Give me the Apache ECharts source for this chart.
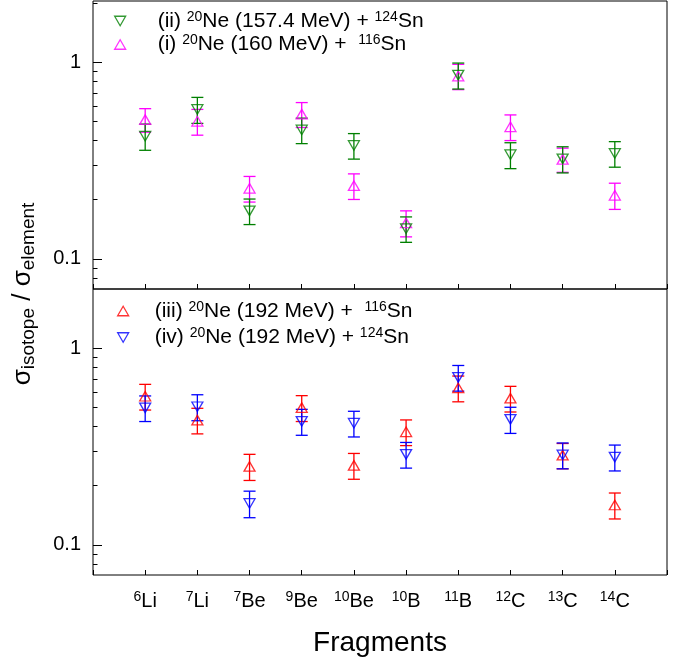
<!DOCTYPE html>
<html><head><meta charset="utf-8">
<script src="https://cdn.jsdelivr.net/npm/echarts@6/dist/echarts.min.js"></script>
<style>html,body{margin:0;padding:0;background:#fff}#c{width:685px;height:661px}</style>
</head><body><div id="c"></div>
<script>
// ---- categories (fragments) ----
const massNumbers = ['6','7','7','9','10','10','11','12','13','14'];
const elements    = ['Li','Li','Be','Be','Be','B','B','C','C','C'];

// ---- top panel ----
// (ii) 20Ne (157.4 MeV) + 124Sn
const ii_val = [0.42, 0.575, 0.175, 0.452, 0.377, 0.142, 0.86, 0.338, 0.322, 0.343];
const ii_err = [0.064, 0.087, 0.026, 0.067, 0.056, 0.021, 0.13, 0.051, 0.049, 0.051];
// (i) 20Ne (160 MeV) + 116Sn
const i_val  = [0.51, 0.50, 0.228, 0.544, 0.235, 0.152, 0.85, 0.469, 0.32, 0.21];
const i_err  = [0.07, 0.075, 0.034, 0.079, 0.035, 0.023, 0.125, 0.07, 0.045, 0.032];

// ---- bottom panel ----
// (iii) 20Ne (192 MeV) + 116Sn
const iii_val = [0.569, 0.43, 0.25, 0.498, 0.253, 0.375, 0.627, 0.556, 0.285, 0.159];
const iii_err = [0.085, 0.064, 0.038, 0.075, 0.038, 0.056, 0.094, 0.083, 0.042, 0.024];
// (iv) 20Ne (192 MeV) + 124Sn
const iv_val = [0.497, 0.503, 0.162, 0.424, 0.415, 0.288, 0.71, 0.434, 0.286, 0.279];
const iv_err = [0.074, 0.076, 0.025, 0.064, 0.062, 0.043, 0.106, 0.066, 0.043, 0.042];

// ---- axis ticks ----
const yMajorTicks = [0.1, 1];
const yMinorTicks = [0.08, 0.09, 0.2, 0.3, 0.4, 0.5, 0.6, 0.7, 0.8, 0.9, 2];

const FONT = 'Liberation Sans, Arial, sans-serif';
const GREEN = '#008000', MAGENTA = '#ff00ff', RED = '#ff0000', BLUE = '#0000ff';
const DOWN = 'path://M0,0L10,0L5,8.66Z';

const legendText = {
  'ii':  '{sp|}{t|(ii) }{sup|20}{t|Ne (157.4 MeV) + }{sup|124}{t|Sn}',
  'i':   '{sp|}{t|(i) }{sup|20}{t|Ne (160 MeV) +  }{sup|116}{t|Sn}',
  'iii': '{sp|}{t|(iii) }{sup|20}{t|Ne (192 MeV) +  }{sup|116}{t|Sn}',
  'iv':  '{sp|}{t|(iv) }{sup|20}{t|Ne (192 MeV) + }{sup|124}{t|Sn}'
};

function legendRich(sp) {
  return {
    sp: {width: sp, fontSize: 21, lineHeight: 22},
    t: {fontSize: 21, fontFamily: FONT, color: '#000', lineHeight: 22},
    sup: {fontSize: 14, fontFamily: FONT, color: '#000', lineHeight: 14, verticalAlign: 'top'}
  };
}

function scatter(name, vals, color, sym, gi, z) {
  return {
    name, type: 'scatter', xAxisIndex: gi, yAxisIndex: gi, z,
    symbol: sym, symbolSize: [11, 9.5],
    itemStyle: {color: 'rgba(255,255,255,0)', borderColor: color, borderWidth: 1.3},
    data: vals.map((v, i) => [i + 1, v])
  };
}

function errBars(vals, errs, color, gi, z) {
  return {
    type: 'custom', xAxisIndex: gi, yAxisIndex: gi, z, silent: true,
    data: vals.map((v, i) => [i + 1, v - errs[i], v + errs[i]]),
    encode: {x: 0, y: [1, 2]},
    renderItem(params, api) {
      const x = api.value(0);
      const lo = api.coord([x, api.value(1)]);
      const hi = api.coord([x, api.value(2)]);
      const hw = 6;
      const style = {stroke: color, lineWidth: 1.3, fill: null};
      return {type: 'group', children: [
        {type: 'line', shape: {x1: lo[0], y1: lo[1], x2: hi[0], y2: hi[1]}, style},
        {type: 'line', shape: {x1: lo[0] - hw, y1: lo[1], x2: lo[0] + hw, y2: lo[1]}, style},
        {type: 'line', shape: {x1: hi[0] - hw, y1: hi[1], x2: hi[0] + hw, y2: hi[1]}, style}
      ]};
    }
  };
}

function yTicks(gi, maxV) {
  const data = yMajorTicks.map(v => [0, v, 1]).concat(yMinorTicks.filter(v => v < maxV).map(v => [0, v, 0]));
  return {
    type: 'custom', xAxisIndex: gi, yAxisIndex: gi, z: 10, silent: true,
    data,
    renderItem(params, api) {
      const p = api.coord([0, api.value(1)]);
      const len = api.value(2) ? 9 : 4.5;
      const y = Math.round(p[1]) + 0.5;
      return {type: 'line', shape: {x1: p[0], y1: y, x2: p[0] + len, y2: y}, style: {stroke: '#000', lineWidth: 1}};
    }
  };
}

function yLabel(v) {
  const l = Math.log10(v);
  const r = Math.round(l);
  if (Math.abs(l - r) > 1e-6) return '';
  return r >= 0 ? String(Math.pow(10, r)) : Math.pow(10, r).toFixed(-r);
}

function xAxis(gi, showLabels) {
  return {
    gridIndex: gi, type: 'value', min: 0, max: 11, interval: 1,
    axisLine: {show: false},
    axisTick: {show: true, inside: true, length: 5, lineStyle: {color: '#000', width: 1}},
    splitLine: {show: false},
    axisLabel: showLabels ? {
      show: true, margin: 15,
      formatter: v => (v >= 1 && v <= massNumbers.length) ? `{sup|${massNumbers[v - 1]}}{el|${elements[v - 1]}}` : '',
      rich: {
        el: {fontSize: 20, fontFamily: FONT, color: '#000', lineHeight: 23},
        sup: {fontSize: 14, fontFamily: FONT, color: '#000', lineHeight: 14, verticalAlign: 'top'}
      }
    } : {show: false},
    name: showLabels ? 'Fragments' : '',
    nameLocation: 'middle', nameGap: 54,
    nameTextStyle: {fontSize: 28, fontFamily: FONT, color: '#000', lineHeight: 29}
  };
}

function yAxis(gi, maxV) {
  return {
    gridIndex: gi, type: 'log', logBase: 10, min: 0.07, max: maxV,
    axisLine: {show: false}, axisTick: {show: false}, splitLine: {show: false}, minorTick: {show: false},
    axisLabel: {show: true, margin: 12, fontSize: 20, fontFamily: FONT, color: '#000', formatter: yLabel}
  };
}

const option = {
  animation: false,
  backgroundColor: '#fff',
  grid: [
    {left: 93, right: 18, top: 1, height: 288, show: true, borderColor: '#000', borderWidth: 1, backgroundColor: 'transparent'},
    {left: 93, right: 18, top: 289, height: 286, show: true, borderColor: '#000', borderWidth: 1, backgroundColor: 'transparent'}
  ],
  xAxis: [xAxis(0, false), xAxis(1, true)],
  yAxis: [yAxis(0, 2.05), yAxis(1, 2)],
  legend: [
    {data: ['ii', 'i'], orient: 'vertical', left: 114, top: 10, padding: 0, itemGap: 2,
     itemWidth: 11, itemHeight: 9.5, selectedMode: false,
     itemStyle: {borderWidth: 1.3},
     formatter: n => legendText[n], textStyle: {rich: legendRich(27)}},
    {data: ['iii', 'iv'], orient: 'vertical', left: 117, top: 300, padding: 0, itemGap: 5,
     itemWidth: 11, itemHeight: 9.5, selectedMode: false,
     itemStyle: {borderWidth: 1.3},
     formatter: n => legendText[n], textStyle: {rich: legendRich(21)}}
  ],
  graphic: [{
    type: 'text', x: 23, y: 294, rotation: Math.PI / 2,
    style: {
      text: '{s|σ}{b|isotope}{s| / σ}{b|element}',
      align: 'center', verticalAlign: 'middle',
      rich: {
        s: {fontSize: 26, fontFamily: FONT, fill: '#000', lineHeight: 30},
        b: {fontSize: 19, fontFamily: FONT, fill: '#000', lineHeight: 19, verticalAlign: 'bottom'}
      }
    }
  }],
  series: [
    errBars(i_val, i_err, MAGENTA, 0, 2),
    errBars(ii_val, ii_err, GREEN, 0, 3),
    scatter('i', i_val, MAGENTA, 'triangle', 0, 4),
    scatter('ii', ii_val, GREEN, DOWN, 0, 5),
    errBars(iii_val, iii_err, RED, 1, 2),
    errBars(iv_val, iv_err, BLUE, 1, 3),
    scatter('iii', iii_val, RED, 'triangle', 1, 4),
    scatter('iv', iv_val, BLUE, DOWN, 1, 5),
    yTicks(0, 2.05),
    yTicks(1, 2)
  ]
};

const chart = echarts.init(document.getElementById('c'), null, {renderer: 'canvas'});
chart.setOption(option);
</script>
</body></html>
